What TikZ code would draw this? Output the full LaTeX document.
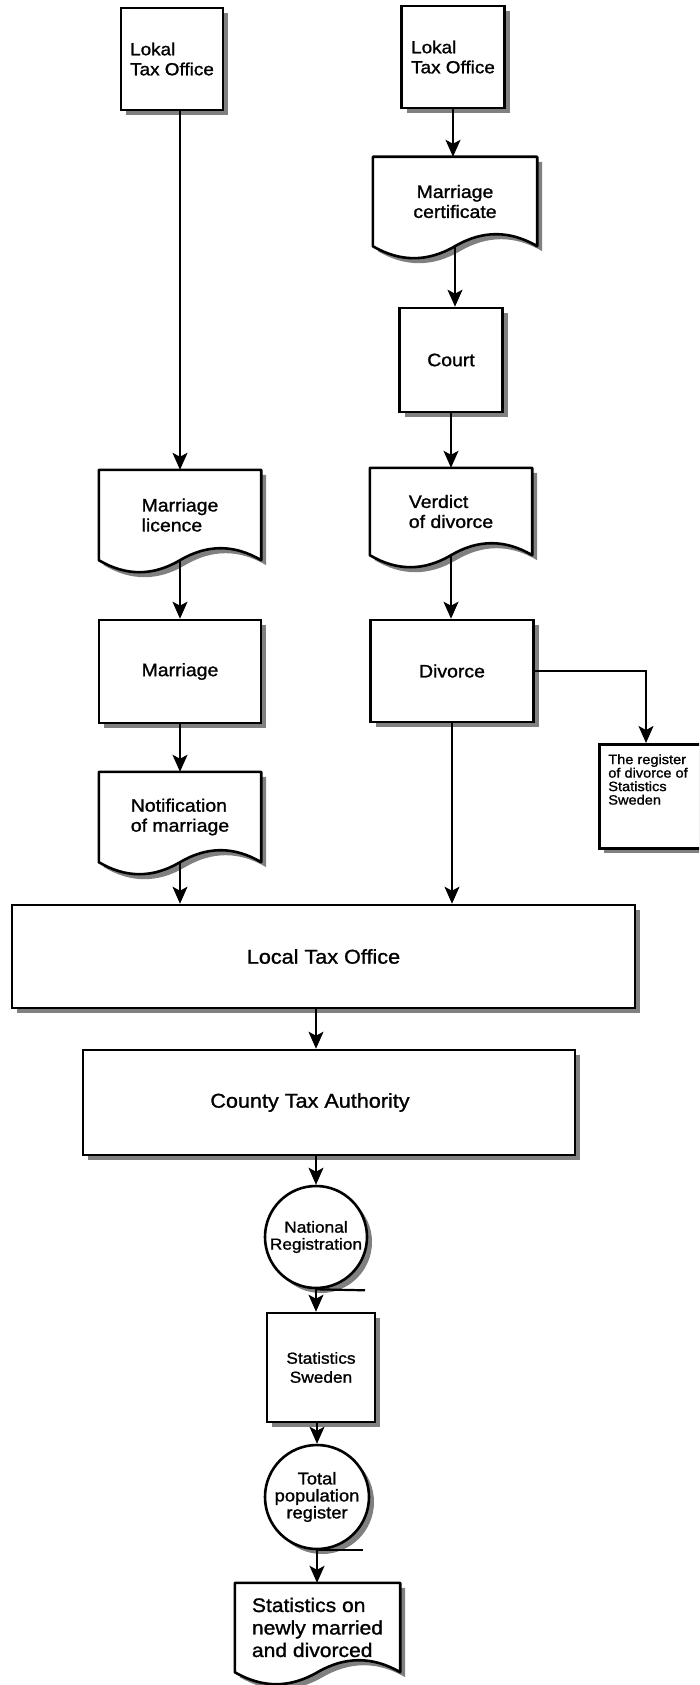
\documentclass[tikz,border=0pt]{standalone}
\usepackage{fontspec}
\setmainfont{Liberation Sans}[FakeStretch=1.08,FakeBold=1.2]
\usetikzlibrary{shadows,arrows.meta,calc}
\pgfdeclarelayer{bg}
\pgfsetlayers{bg,main}
\tikzset{
  shad/.style={drop shadow={shadow xshift=5pt, shadow yshift=-5pt, fill=black!50, opacity=1}},
  boxnode/.style={draw, line width=2.6pt, fill=white, shad, inner sep=0pt, align=center, font=\fontsize{18}{20}\selectfont},
  docbody/.style={inner sep=0pt, align=left, font=\fontsize{18}{20}\selectfont},
  docline/.style={draw, line width=2.6pt, fill=white, shad, line join=round},
  tapenode/.style={circle, draw, line width=2.6pt, fill=white, shad, inner sep=0pt, align=center, font=\fontsize{16}{17}\selectfont},
  arr/.style={line width=1.8pt, -{Stealth[length=17pt,width=15pt,inset=4pt]}},
  tail/.style={line width=2.2pt},
}
\newcommand\docshape[1]{%
  \begin{pgfonlayer}{bg}
  \path[docline] (#1.south east) -- (#1.north east) -- (#1.north west) -- (#1.south west)
   .. controls ($(#1.south west)!0.1667!(#1.south east)+(0,16)$) and ($(#1.south west)!0.3333!(#1.south east)+(0,16)$) .. (#1.south)
   .. controls ($(#1.south)!0.3333!(#1.south east)+(0,-16)$) and ($(#1.south)!0.6667!(#1.south east)+(0,-16)$) .. (#1.south east) -- cycle;
  \end{pgfonlayer}}
\begin{document}
\begin{tikzpicture}[x=1pt,y=-1pt]
\useasboundingbox (0,0) rectangle (699,1685);
\clip (0,0) rectangle (699,1685);

% left column
\node[boxnode, align=left, minimum width=102pt, minimum height=102pt, font=\fontsize{17.5}{20}\selectfont] (lokL) at (172,59) {Lokal\\Tax Office};
\node[docbody, minimum width=162pt, minimum height=90pt] (lic) at (180,515) {Marriage\\licence};
\docshape{lic}
\node[boxnode, minimum width=162pt, minimum height=103pt] (mar) at (180,671.5) {Marriage};
\node[docbody, minimum width=162pt, minimum height=90pt] (notif) at (180,817) {Notification\\of marriage};
\docshape{notif}

% right column
\node[boxnode, align=left, minimum width=103pt, minimum height=102pt, font=\fontsize{17.5}{20}\selectfont] (lokR) at (453,57) {Lokal\\Tax Office};
\node[docbody, align=center, minimum width=164pt, minimum height=89pt] (cert) at (455,201.5) {Marriage\\certificate};
\docshape{cert}
\node[boxnode, minimum width=103pt, minimum height=104pt] (court) at (451,360) {Court};
\node[docbody, minimum width=162pt, minimum height=87pt] (verd) at (451,511.5) {Verdict\\of divorce};
\docshape{verd}
\node[boxnode, minimum width=163pt, minimum height=102pt] (div) at (452,671) {Divorce};
\node[boxnode, anchor=north west, align=left, inner xsep=9pt, inner ysep=10pt, font=\fontsize{13.5}{13.5}\selectfont] (reg) at (598,743) {\parbox[t][84pt][t]{104pt}{The register\\of divorce of\\Statistics\\Sweden}};

% lower part
\node[boxnode, minimum width=623pt, minimum height=103pt, font=\fontsize{20}{22}\selectfont] (lto) at (323.5,956.5) {Local Tax Office};
\node[boxnode, minimum width=492pt, minimum height=105pt, font=\fontsize{20}{22}\selectfont] (county) at (329,1102.5) {\hspace*{-38pt}County Tax Authority};
\node[tapenode, minimum size=102pt] (nat) at (316,1237) {National\\Registration};
\draw[tail] (nat.south) -- ++(49,1);
\node[boxnode, minimum width=108pt, minimum height=109pt, font=\fontsize{16}{19}\selectfont] (ss) at (321,1367.5) {Statistics\\Sweden};
\node[tapenode, minimum size=104pt, font=\fontsize{17}{17}\selectfont] (tot) at (317,1497) {Total\\population\\register};
\draw[tail] (tot.south) -- ++(46,0);
\node[docbody, minimum width=165pt, minimum height=89pt, font=\fontsize{19.5}{22.5}\selectfont] (fin) at (317.5,1627.5) {Statistics on\\newly married\\and divorced};
\docshape{fin}

% connectors
\draw[arr] (lokL.south -| lic.north) -- (lic.north);
\draw[arr] (lic.south) -- (lic.south |- mar.north);
\draw[arr] (mar.south) -- (mar.south |- notif.north);
\draw[arr] (notif.south) -- (notif.south |- lto.north);
\draw[arr] (lokR.south) -- (lokR.south |- cert.north);
\draw[arr] (cert.south) -- (cert.south |- court.north);
\draw[arr] (court.south) -- (court.south |- verd.north);
\draw[arr] (verd.south) -- (verd.south |- div.north);
\draw[arr] (div.south) -- (div.south |- lto.north);
\draw[arr] (div.east) -| ([xshift=48pt]reg.north west);
\draw[arr] (nat.north |- lto.south) -- (nat.north |- county.north);
\draw[arr] (nat.north |- county.south) -- (nat.north);
\draw[arr] (nat.south) -- (nat.south |- ss.north);
\draw[arr] (tot.north |- ss.south) -- (tot.north);
\draw[arr] (tot.south) -- (tot.south |- fin.north);
\end{tikzpicture}
\end{document}
